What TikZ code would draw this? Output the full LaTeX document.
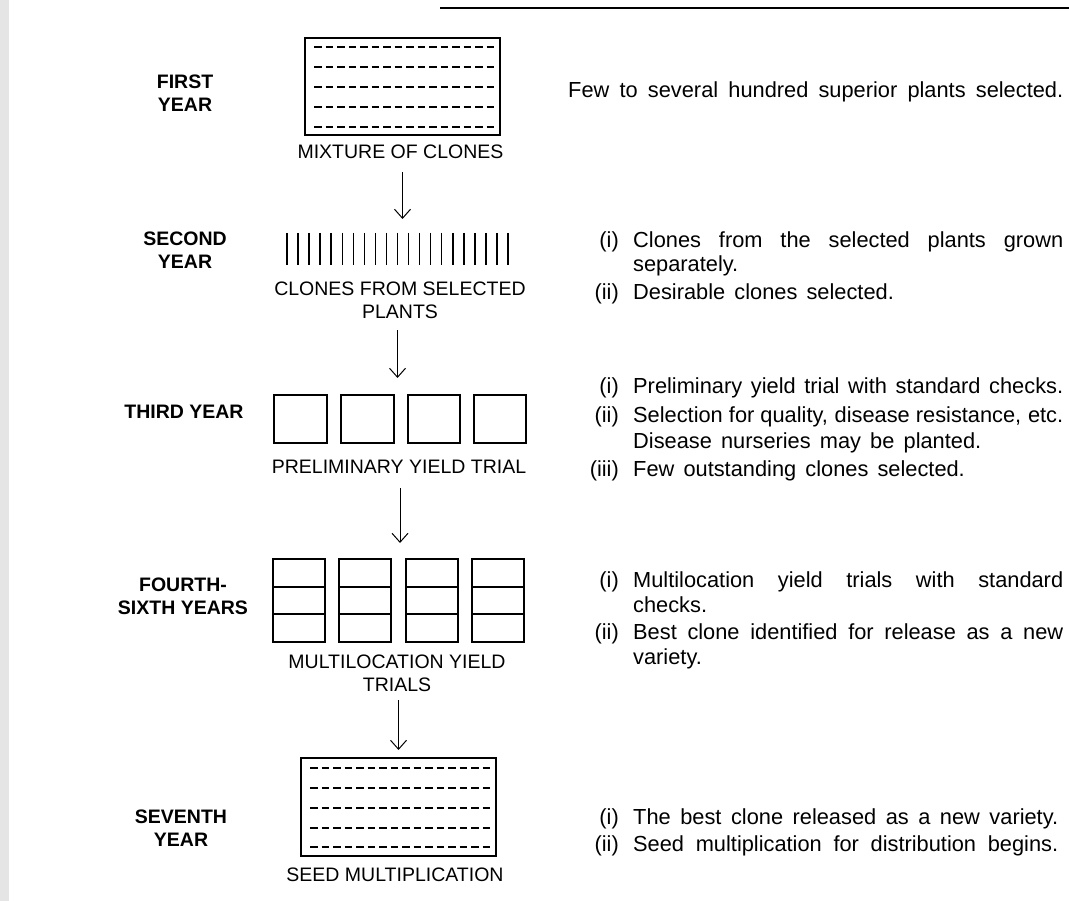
\documentclass[tikz,border=0pt]{standalone}
\usepackage{fontspec}
\setmainfont{Liberation Sans}
\usetikzlibrary{arrows.meta}
\begin{document}
\begin{tikzpicture}[x=1pt,y=-1pt,
  capslabel/.style={font=\fontsize{19.5}{23}\selectfont, inner sep=0pt, align=center},
  yearlabel/.style={font=\bfseries\fontsize{19.5}{23}\selectfont, inner sep=0pt, align=center},
  note/.style={font={\fontsize{21.8}{27}\selectfont\spaceskip=0.42em plus 0.5em minus 0.2em}, inner sep=0pt, anchor=base west},
  notenum/.style={font=\fontsize{21.8}{27}\selectfont, inner sep=0pt, anchor=base east},
  frame/.style={draw, line width=1.5pt, inner sep=0pt, outer sep=0pt},
  slot/.style={inner sep=0pt, outer sep=0pt},
  rowline/.style={dash pattern=on 7.5pt off 4pt, line width=1.2pt},
  bar/.style={line width=1.5pt},
  flow/.style={-{Straight Barb[length=9pt,width=16pt,line width=1pt]}, line width=1pt}
]
\useasboundingbox (0,0) rectangle (1069,901);
\fill[black!10] (0,0) rectangle (9,901);
\draw[line width=1.6pt] (440,8) -- (1069,8);

% ---------- shapes ----------
\node[frame, minimum width=195pt, minimum height=97pt] (box1) at (402.5,86.5) {};
\foreach \d in {9,29,49,69,89}
  \draw[rowline] ([xshift=9pt,yshift=-\d pt]box1.north west) -- ([xshift=189pt,yshift=-\d pt]box1.north west);

\node[slot, minimum width=221pt, minimum height=32pt] (row2) at (397.5,249) {};
\foreach \i in {0,...,20}
  \draw[bar] ([xshift={\i*11.05pt}]row2.north west) -- ([xshift={\i*11.05pt}]row2.south west);

\node[slot, minimum width=252pt, minimum height=48pt] (row3) at (400,419) {};
\node[frame, minimum width=53pt, minimum height=48pt] (t1) at (300.5,419) {};
\node[frame, minimum width=53pt, minimum height=48pt] (t2) at (367.5,419) {};
\node[frame, minimum width=52pt, minimum height=48pt] (t3) at (434,419) {};
\node[frame, minimum width=52pt, minimum height=48pt] (t4) at (500,419) {};

\node[slot, minimum width=251pt, minimum height=83pt] (row4) at (398.5,600.5) {};
\foreach \n/\x in {m1/299,m2/365,m3/432,m4/498}{
  \node[frame, minimum width=52pt, minimum height=83pt] (\n) at (\x,600.5) {};
  \draw[line width=1.5pt] ([yshift=-28pt]\n.north west) -- ([yshift=-28pt]\n.north east);
  \draw[line width=1.5pt] ([yshift=28pt]\n.south west) -- ([yshift=28pt]\n.south east);
}

\node[frame, minimum width=195pt, minimum height=98pt] (box2) at (398.5,807) {};
\foreach \d in {10,30,50,70,89}
  \draw[rowline] ([xshift=9pt,yshift=-\d pt]box2.north west) -- ([xshift=189pt,yshift=-\d pt]box2.north west);

% ---------- labels under shapes ----------
\node[capslabel] (l1) at (400.5,152) {MIXTURE OF CLONES};
\node[capslabel] (l2) at (400,300.5) {CLONES FROM SELECTED\\PLANTS};
\node[capslabel] (l3) at (399,467) {PRELIMINARY YIELD TRIAL};
\node[capslabel] (l4) at (397,673) {MULTILOCATION YIELD\\TRIALS};
\node[capslabel] (l5) at (395,875) {SEED MULTIPLICATION};

% ---------- year labels ----------
\node[yearlabel] (y1) at (185,93.5) {FIRST\\YEAR};
\node[yearlabel] (y2) at (185,250.5) {SECOND\\YEAR};
\node[yearlabel] (y3) at (184,412) {THIRD YEAR};
\node[yearlabel] (y4) at (183,596) {FOURTH-\\SIXTH YEARS};
\node[yearlabel] (y5) at (181,828) {SEVENTH\\YEAR};

% ---------- arrows ----------
\draw[flow, shorten <=37pt, shorten >=14pt] (box1.south) -- (box1.south |- row2.north);
\draw[flow, shorten <=65pt, shorten >=17pt] (row2.south) -- (row2.south |- row3.north);
\draw[flow, shorten <=45pt, shorten >=16pt] (row3.south) -- (row3.south |- row4.north);
\draw[flow, shorten <=58pt, shorten >=8pt] (row4.south) -- (row4.south |- box2.north);

% ---------- notes ----------
\node[note] (n1) at (568,98) {\makebox[495pt][s]{Few to several hundred superior plants selected.}};

\node[notenum] (n2a) at (619,248) {(i)};
\node[note] (n2b) at (633,248) {\makebox[430pt][s]{Clones from the selected plants grown}};
\node[note] (n2c) at (633,272) {separately.};
\node[notenum] (n2d) at (619,300) {(ii)};
\node[note] (n2e) at (633,300) {Desirable clones selected.};

\node[notenum] (n3a) at (619,394) {(i)};
\node[note] (n3b) at (633,394) {\makebox[430pt][s]{Preliminary yield trial with standard checks.}};
\node[notenum] (n3c) at (619,422) {(ii)};
\node[note] (n3d) at (633,422) {\makebox[430pt][s]{Selection for quality, disease resistance, etc.}};
\node[note] (n3e) at (633,449) {Disease nurseries may be planted.};
\node[notenum] (n3f) at (619,476) {(iii)};
\node[note] (n3g) at (633,476) {Few outstanding clones selected.};

\node[notenum] (n4a) at (619,587) {(i)};
\node[note] (n4b) at (633,587) {\makebox[430pt][s]{Multilocation yield trials with standard}};
\node[note] (n4c) at (633,612) {checks.};
\node[notenum] (n4d) at (619,639) {(ii)};
\node[note] (n4e) at (633,639) {\makebox[430pt][s]{Best clone identified for release as a new}};
\node[note] (n4f) at (633,664) {variety.};

\node[notenum] (n5a) at (619,824) {(i)};
\node[note] (n5b) at (633,824) {\makebox[425pt][s]{The best clone released as a new variety.}};
\node[notenum] (n5c) at (619,851) {(ii)};
\node[note] (n5d) at (633,851) {\makebox[425pt][s]{Seed multiplication for distribution begins.}};
\end{tikzpicture}
\end{document}
